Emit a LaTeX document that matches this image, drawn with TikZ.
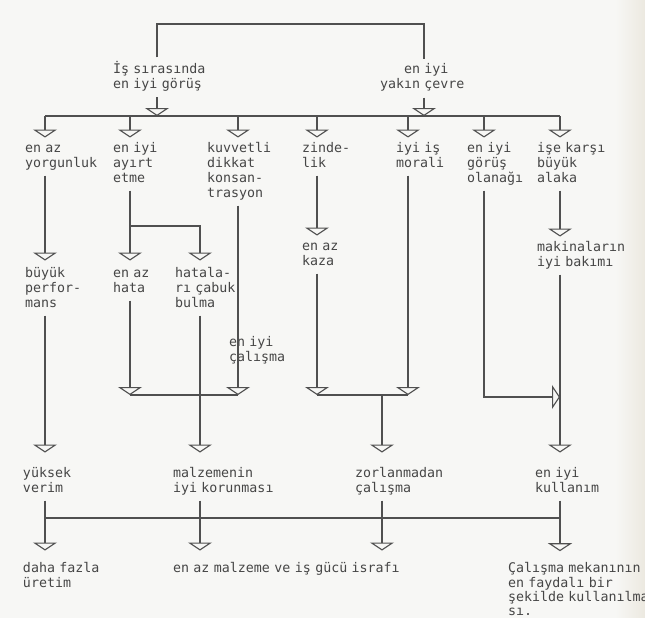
\documentclass[tikz,border=0pt]{standalone}
\usepackage{fontspec}
\usepackage{tikz}
\usetikzlibrary{arrows.meta}
\newfontfamily\daktilo{DejaVu Sans Mono}
\definecolor{murekkep}{RGB}{80,80,80}
\definecolor{yazi}{RGB}{70,70,70}
\definecolor{kagit}{RGB}{247,247,245}
\definecolor{kenar}{RGB}{236,233,224}
\tikzstyle{etiket} = [anchor=north west, 
text width=260pt, align=left, 
inner sep=1pt, outer sep=3pt, 
font=\daktilo\fontsize{13.3}{15}\selectfont, text=yazi, 
execute at begin node=\strut, execute at end node=\strut]
\tikzstyle{hat} = [line width=1.1pt, draw=murekkep]
\tikzstyle{ok} = [-{Triangle[open, width=24pt, length=8pt]}]

\begin{document}
\begin{tikzpicture}[x=1pt, y=-1pt]
        \useasboundingbox (0,0) rectangle (645,618);
        % Kagit zemini
        \fill[kagit] (0,0) rectangle (645,618);
        \shade[left color=kagit, right color=kenar] (615,0) rectangle (645,618);

        % Ust duzey etiketler
        \node[etiket] (gorus) at (109,57.5) {İş sırasında\\en iyi görüş};
        \node[etiket] (cevre) at (376,59.5) {\phantom{yak}en iyi\\yakın çevre};

        % Ikinci sira etiketler
        \node[etiket] (yorgunluk) at (21,137.5) {en az\\yorgunluk};
        \node[etiket] (ayirt) at (109,137.5) {en iyi\\ayırt\\etme};
        \node[etiket] (dikkat) at (203,137.5) {kuvvetli\\dikkat\\konsan-\\trasyon};
        \node[etiket] (zindelik) at (298,137.5) {zinde-\\lik};
        \node[etiket] (moral) at (392,137.5) {iyi iş\\morali};
        \node[etiket] (olanak) at (463,137.5) {en iyi\\görüş\\olanağı};
        \node[etiket] (alaka) at (533,137.5) {işe karşı\\büyük\\alaka};

        % Ucuncu sira etiketler
        \node[etiket] (kaza) at (298,235.5) {en az\\kaza};
        \node[etiket] (bakim) at (533,236.5) {makinaların\\iyi bakımı};
        \node[etiket] (performans) at (21,262.5) {büyük\\perfor-\\mans};
        \node[etiket] (hata) at (109,262.5) {en az\\hata};
        \node[etiket] (bulma) at (171,262.5) {hatala-\\rı çabuk\\bulma};
        \node[etiket] (calisma) at (225,331.5) {en iyi\\çalışma};

        % Dorduncu sira etiketler
        \node[etiket] (verim) at (19,462.5) {yüksek\\verim};
        \node[etiket] (koruma) at (169,462.5) {malzemenin\\iyi korunması};
        \node[etiket] (zorlanma) at (351,462.5) {zorlanmadan\\çalışma};
        \node[etiket] (kullanim) at (531,462.5) {en iyi\\kullanım};

        % Son sira etiketler
        \node[etiket] (uretim) at (19,557.5) {daha fazla\\üretim};
        \node[etiket] (israf) at (169,557.5) {en az malzeme ve iş gücü israfı};
        \node[etiket, font=\daktilo\fontsize{13.3}{14}\selectfont] (mekan) at (504,558.2) {Çalışma mekanının\\en faydalı bir\\şekilde kullanılma-\\sı.};

        % Sutun ve bara noktalari
        \coordinate (ust) at (0,24);
        \coordinate (a1) at (157,116);
        \coordinate (a2) at (424,116);
        \coordinate (k1) at (45,116);
        \coordinate (k2) at (130,116);
        \coordinate (k3) at (238,116);
        \coordinate (k4) at (317,116);
        \coordinate (k5) at (408,116);
        \coordinate (k6) at (484,116);
        \coordinate (k7) at (560,116);
        \coordinate (ayrim) at (200,226);
        \coordinate (b1) at (130,395);
        \coordinate (b2) at (238,395);
        \coordinate (b3) at (317,395);
        \coordinate (b4) at (408,395);
        \coordinate (b5) at (382,395);
        \coordinate (b6) at (560,397);
        \coordinate (alt) at (0,518);

        % Ust kosegen ve ana bara
        \draw[hat] (gorus.north -| a1) -- (a1 |- ust) -- (a2 |- ust) -- (cevre.north -| a2);
        \draw[hat, ok] (gorus.south -| a1) -- (a1);
        \draw[hat, ok] (cevre.south -| a2) -- (a2);
        \draw[hat] (k1) -- (k7);

        % Ana baradan inen oklar
        \draw[hat, ok] (k1) -- (yorgunluk.north -| k1);
        \draw[hat, ok] (k2) -- (ayirt.north -| k2);
        \draw[hat, ok] (k3) -- (dikkat.north -| k3);
        \draw[hat, ok] (k4) -- (zindelik.north -| k4);
        \draw[hat, ok] (k5) -- (moral.north -| k5);
        \draw[hat, ok] (k6) -- (olanak.north -| k6);
        \draw[hat, ok] (k7) -- (alaka.north -| k7);

        % Ikinci siradan ucuncu siraya
        \draw[hat, ok, shorten >=2pt] (yorgunluk.south -| k1) -- (performans.north -| k1);
        \draw[hat, ok, shorten >=2pt] (ayirt.south -| k2) -- (hata.north -| k2);
        \draw[hat, ok, shorten >=2pt] (ayrim -| k2) -- (ayrim) -- (bulma.north -| ayrim);
        \draw[hat, ok] (zindelik.south -| k4) -- (kaza.north -| k4);
        \draw[hat, ok] (alaka.south -| k7) -- (bakim.north -| k7);

        % Birlesen oklar
        \draw[hat, ok] (dikkat.south -| k3) -- (b2);
        \draw[hat, ok] (hata.south -| k2) -- (b1);
        \draw[hat] (b1) -- (b2);
        \draw[hat, ok] (kaza.south -| k4) -- (b3);
        \draw[hat, ok] (moral.south -| k5) -- (b4);
        \draw[hat] (b3) -- (b4);
        \draw[hat, ok] (olanak.south -| k6) |- (b6);

        % Dorduncu siraya inen oklar
        \draw[hat, ok, shorten >=10pt] (performans.south -| k1) -- (verim.north -| k1);
        \draw[hat, ok, shorten >=10pt] (bulma.south -| ayrim) -- (koruma.north -| ayrim);
        \draw[hat, ok, shorten >=10pt] (b5) -- (zorlanma.north -| b5);
        \draw[hat, ok, shorten >=10pt] (bakim.south -| k7) -- (kullanim.north -| k7);

        % Alt bara ve son oklar
        \draw[hat] (k1 |- alt) -- (k7 |- alt);
        \draw[hat, ok, shorten >=7pt] (verim.south -| k1) -- (uretim.north -| k1);
        \draw[hat, ok, shorten >=7pt] (koruma.south -| ayrim) -- (israf.north -| ayrim);
        \draw[hat, ok, shorten >=7pt] (zorlanma.south -| b5) -- (israf.north -| b5);
        \draw[hat, ok, shorten >=7pt] (kullanim.south -| k7) -- (mekan.north -| k7);

    \end{tikzpicture}
\end{document}
